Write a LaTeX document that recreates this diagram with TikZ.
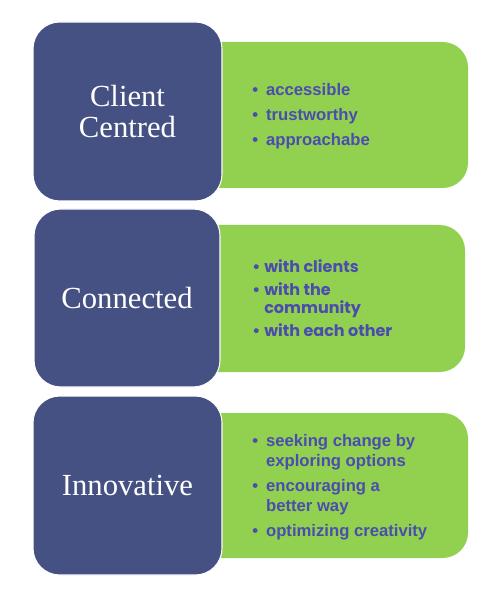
\documentclass[tikz,border=0pt]{standalone}
\usepackage{fontspec}
\setmainfont{Liberation Sans}
\newfontfamily\headfont{Liberation Serif}
\newfontfamily\gothfont{Poppins}

\definecolor{headblue}{HTML}{465183}
\definecolor{listgreen}{HTML}{92D050}
\definecolor{listblue}{HTML}{4A4DAE}

\begin{document}
\begin{tikzpicture}[x=0.75pt,y=-0.75pt]
    \tikzset{headbox/.style = {shape=rectangle,rounded corners=20pt,fill=headblue,draw=white,line width=0.8pt,
        minimum width=141.75pt,minimum height=134.25pt,text=white,align=center,
        font=\headfont\fontsize{23}{23.5}\selectfont}}
    \tikzset{listbox/.style = {shape=rectangle,rounded corners=19pt,fill=listgreen,draw=none,minimum width=216pt}}
    \tikzset{listtext/.style = {anchor=west,align=left,inner sep=0pt,text=listblue,
        font=\bfseries\fontsize{12.5}{15}\selectfont}}
    \tikzset{gothtext/.style = {listtext,font=\gothfont\bfseries\fontsize{12}{13.5}\selectfont}}

    \useasboundingbox (0,0) rectangle (496,605);

    % green boxes first, blue ones on top

    \node[listbox,minimum height=109.5pt] (green1) at (324,115) {};
    \node[listbox,minimum height=110.25pt,minimum width=213.75pt] (green2) at (322.5,298.5) {};
    \node[listbox,minimum height=108.75pt] (green3) at (324,485.5) {};

    \node[headbox] (client) at (127.5,111.5) {Client\\Centred};
    \node[headbox,minimum width=139.5pt,minimum height=133.5pt] (connected) at (127,298) {Connected};
    \node[headbox] (innovative) at (127.5,485.5) {Innovative};

    % bullet lists

    \node[listtext] (list1) at (252,116)
        {\textbullet\hspace{6pt}accessible\\[3.75pt]
         \textbullet\hspace{6pt}trustworthy\\[3.75pt]
         \textbullet\hspace{6pt}approachabe};
    \node[gothtext] (list2) at (252,298)
        {\textbullet\hspace{3pt}with clients\\[3.75pt]
         \textbullet\hspace{3pt}with the\\
         \phantom{\textbullet}\hspace{3pt}community\\[3.75pt]
         \textbullet\hspace{3pt}with each other};
    \node[listtext] (list3) at (252,487)
        {\textbullet\hspace{6pt}seeking change by\\
         \phantom{\textbullet}\hspace{6pt}exploring options\\[3.75pt]
         \textbullet\hspace{6pt}encouraging a\\
         \phantom{\textbullet}\hspace{6pt}better way\\[3.75pt]
         \textbullet\hspace{6pt}optimizing creativity};
\end{tikzpicture}
\end{document}
